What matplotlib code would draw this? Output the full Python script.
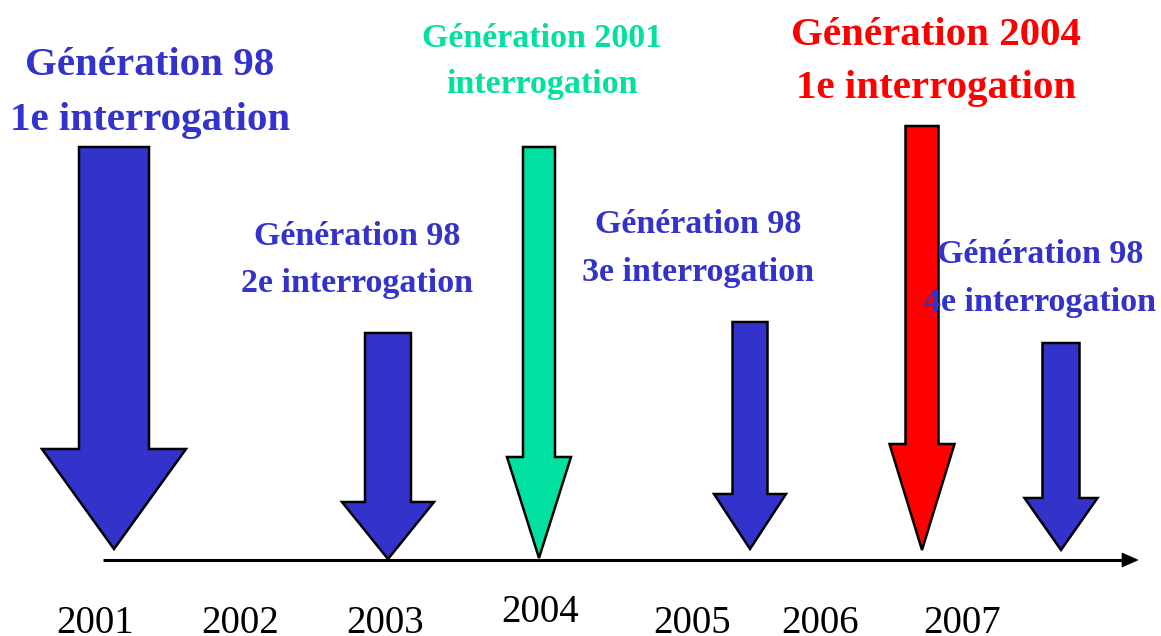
import matplotlib
matplotlib.use("Agg")
import matplotlib.pyplot as plt
from matplotlib.patches import Polygon

# ---- data (diagram units = reference pixels, y downwards) ----
years = ["2001", "2002", "2003", "2004", "2005", "2006", "2007"]
year_x = [95, 240, 385, 540, 692, 820, 962]
year_base = [633, 633, 633, 622, 633, 633, 633]

# arrows: tip x, shaft top y, shaft half width, head base y, head half width, tip y
arrow_x = [114, 388, 539, 750, 922, 1061]
arrow_top = [147, 333, 147, 322, 126, 343]
arrow_shaft_hw = [35, 23, 16, 17.5, 16.5, 18.5]
arrow_head_y = [449, 502, 457, 494, 444, 498]
arrow_head_hw = [72, 46, 32, 36, 32.5, 36.5]
arrow_tip = [549, 559, 558, 549, 550, 550]
arrow_color = ["#3333CC", "#3333CC", "#00E0A0", "#3333CC", "#FF0000", "#3333CC"]

label_line1 = ["Génération 98", "Génération 98", "Génération 2001",
               "Génération 98", "Génération 2004", "Génération 98"]
label_line2 = ["1e interrogation", "2e interrogation", "interrogation",
               "3e interrogation", "1e interrogation", "4e interrogation"]
label_x = [150, 357, 542, 698, 936, 1040]
label_base1 = [75, 245, 47, 233, 45, 263]
label_base2 = [130, 292, 93, 281, 98, 311]
label_size = [29.5, 24.5, 24.5, 24.5, 29.5, 24.5]
label_color = ["#3333CC", "#3333CC", "#00E0A0", "#3333CC", "#FF0000", "#3333CC"]

W, H = 1161, 636
fig = plt.figure(figsize=(W / 100, H / 100), dpi=100)
ax = fig.add_axes([0, 0, 1, 1])
ax.set_xlim(0, W)
ax.set_ylim(H, 0)
ax.axis("off")

# timeline
ax.plot([103, 1122], [560, 560], color="black", lw=2.2, solid_capstyle="butt", zorder=1)
ax.add_patch(Polygon([[1122, 553], [1138, 560], [1122, 567]], closed=True,
                     facecolor="black", edgecolor="black", lw=0.5, zorder=1))

# arrows
for x, top, shw, hy, hhw, tip, col in zip(arrow_x, arrow_top, arrow_shaft_hw,
                                         arrow_head_y, arrow_head_hw, arrow_tip, arrow_color):
    pts = [[x - shw, top], [x + shw, top], [x + shw, hy], [x + hhw, hy],
           [x, tip], [x - hhw, hy], [x - shw, hy]]
    ax.add_patch(Polygon(pts, closed=True, facecolor=col, edgecolor="black",
                         lw=1.8, joinstyle="miter", zorder=3))

# labels (drawn above arrows)
for l1, l2, x, b1, b2, fs, col in zip(label_line1, label_line2, label_x, label_base1,
                                      label_base2, label_size, label_color):
    for txt, b in ((l1, b1), (l2, b2)):
        ax.text(x, b, txt, ha="center", va="baseline", fontsize=fs, color=col,
                family="Liberation Serif", fontweight="bold", zorder=4)

# year labels
for yr, x, b in zip(years, year_x, year_base):
    ax.text(x, b, yr, ha="center", va="baseline", fontsize=28, color="black",
            family="Liberation Serif", zorder=2)

fig.savefig("out.png", dpi=100)
